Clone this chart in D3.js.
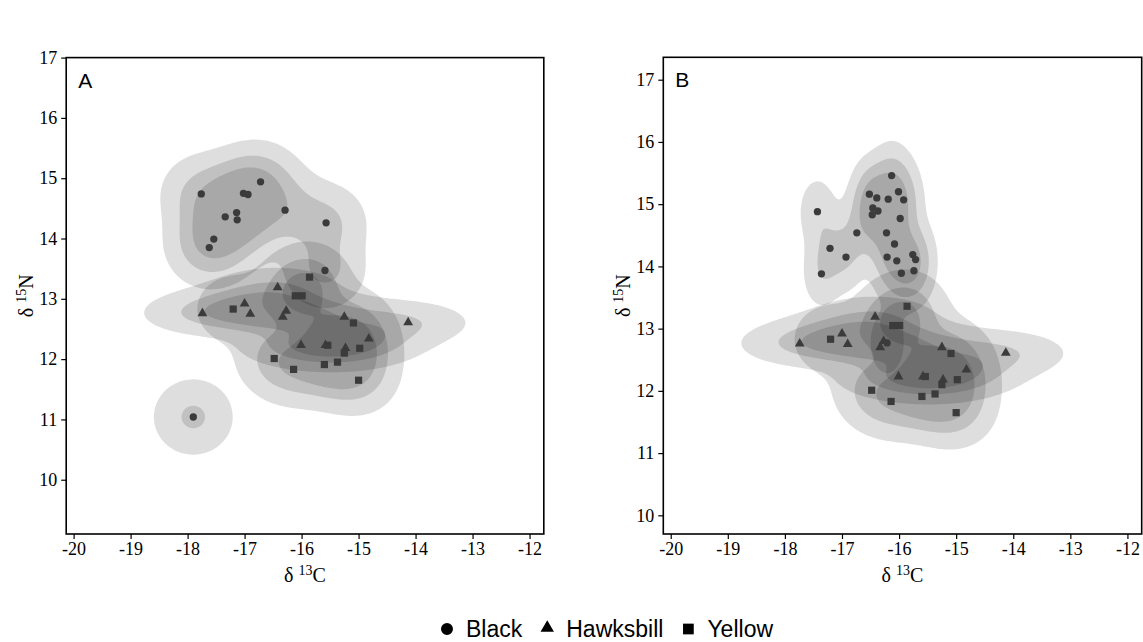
<!DOCTYPE html>
<html>
<head>
<meta charset="utf-8">
<script src="https://cdn.jsdelivr.net/npm/d3@7"></script>
<style>
  body { margin: 0; background: #fff; }
  svg { display: block; }
</style>
</head>
<body>
<svg id="chart" width="1143" height="642"></svg>
<script>
// ---- isotope values (δ13C, δ15N) ----
const blackC_A = [-17.76, -17.02, -16.94, -16.72, -16.29, -15.57, -17.14, -17.34, -17.13, -17.54, -17.62, -15.59, -17.90];
const blackN_A = [14.74, 14.75, 14.73, 14.94, 14.47, 14.26, 14.43, 14.36, 14.31, 13.99, 13.85, 13.47, 11.04];

const blackC_B = [-16.13, -16.52, -16.39, -16.19, -16.01, -15.92, -16.46, -16.37, -16.47, -15.98, -17.43, -16.74,
                  -16.22, -16.08, -17.21, -16.93, -16.21, -15.76, -15.71, -16.04, -17.36, -15.96, -15.74, -16.21];
const blackN_B = [15.46, 15.16, 15.10, 15.08, 15.20, 15.07, 14.94, 14.89, 14.83, 14.77, 14.88, 14.54,
                  14.54, 14.36, 14.29, 14.15, 14.15, 14.19, 14.11, 14.09, 13.88, 13.89, 13.93, 12.77];

const hawksbillC = [-17.74, -17.00, -16.90, -16.42, -16.27, -16.33, -15.25, -14.82, -16.01, -15.58, -15.23, -14.13];
const hawksbillN = [12.76, 12.92, 12.75, 13.19, 12.80, 12.70, 12.70, 12.34, 12.23, 12.23, 12.18, 12.61];

const yellowC = [-15.86, -16.11, -15.99, -17.20, -15.09, -15.54, -15.25, -14.98, -16.48, -16.14, -15.60, -15.37, -15.00];
const yellowN = [13.36, 13.05, 13.05, 12.83, 12.60, 12.23, 12.10, 12.18, 12.01, 11.83, 11.91, 11.95, 11.65];

const species = ["Black", "Hawksbill", "Yellow"];
const xTicks = [-20, -19, -18, -17, -16, -15, -14, -13, -12];
const yTicks = [10, 11, 12, 13, 14, 15, 16, 17];
const hdrProbs = [0.95, 0.75, 0.5];   // highest-density regions drawn per species
const panelTags = ["A", "B"];

const svg = d3.select("#chart");
const serif = "'Liberation Serif', 'Times New Roman', serif";
const sans = "'Liberation Sans', Arial, sans-serif";
const pointColor = "#3b3b3b";

const symbolOf = {
  Black: d3.symbolCircle,
  Hawksbill: d3.symbolTriangle,
  Yellow: d3.symbolSquare
};
const symbolSize = { Black: 42, Hawksbill: 42, Yellow: 52 };
const legendSize = { Black: 113, Hawksbill: 78, Yellow: 115 };

const panels = [
  {
    tag: panelTags[0],
    left: 66.2, right: 543.8, top: 57.6, bottom: 534,
    xDomain: [-20.13, -11.75], yDomain: [9.10, 17.0],
    groups: [
      { name: "Black", x: blackC_A, y: blackN_A },
      { name: "Hawksbill", x: hawksbillC, y: hawksbillN },
      { name: "Yellow", x: yellowC, y: yellowN }
    ]
  },
  {
    tag: panelTags[1],
    left: 663.3, right: 1141.7, top: 57.3, bottom: 534,
    xDomain: [-20.13, -11.75], yDomain: [9.70, 17.36],
    groups: [
      { name: "Black", x: blackC_B, y: blackN_B },
      { name: "Hawksbill", x: hawksbillC, y: hawksbillN },
      { name: "Yellow", x: yellowC, y: yellowN }
    ]
  }
];

// normal-reference bandwidth (as in MASS::bandwidth.nrd)
function bandwidthNrd(v) {
  const s = v.slice().sort((a, b) => a - b);
  const iqr = (d3.quantileSorted(s, 0.75) - d3.quantileSorted(s, 0.25)) / 1.34;
  const sd = d3.deviation(v);
  return 4 * 1.06 * Math.min(sd, iqr) * Math.pow(v.length, -0.2);
}

const GRID = 240;

function densityGrid(xs, ys, xDom, yDom) {
  const hx = bandwidthNrd(xs) / 4, hy = bandwidthNrd(ys) / 4;
  const dx = (xDom[1] - xDom[0]) / GRID, dy = (yDom[1] - yDom[0]) / GRID;
  const values = new Float64Array(GRID * GRID);
  const n = xs.length;
  for (let j = 0; j < GRID; j++) {
    const yv = yDom[1] - (j + 0.5) * dy;
    for (let i = 0; i < GRID; i++) {
      const xv = xDom[0] + (i + 0.5) * dx;
      let s = 0;
      for (let k = 0; k < n; k++) {
        const u = (xv - xs[k]) / hx, w = (yv - ys[k]) / hy;
        s += Math.exp(-0.5 * (u * u + w * w));
      }
      values[i + j * GRID] = s / (n * 2 * Math.PI * hx * hy);
    }
  }
  return { values, dx, dy };
}

function hdrThresholds(values, probs) {
  const sorted = Array.from(values).sort((a, b) => b - a);
  const total = d3.sum(sorted);
  const cum = [];
  let acc = 0;
  for (const v of sorted) { acc += v; cum.push(acc / total); }
  return probs.map(p => {
    const idx = d3.bisectLeft(cum, p);
    return sorted[Math.min(idx, sorted.length - 1)];
  });
}

panels.forEach((p, pi) => {
  const x = d3.scaleLinear().domain(p.xDomain).range([p.left, p.right]);
  const y = d3.scaleLinear().domain(p.yDomain).range([p.bottom, p.top]);
  const g = svg.append("g");

  const clipId = "clip" + pi;
  svg.append("clipPath").attr("id", clipId)
    .append("rect").attr("x", p.left).attr("y", p.top)
    .attr("width", p.right - p.left).attr("height", p.bottom - p.top);

  const densLayer = g.append("g").attr("clip-path", `url(#${clipId})`);

  // density regions
  p.groups.forEach(gr => {
    const { values, dx, dy } = densityGrid(gr.x, gr.y, p.xDomain, p.yDomain);
    const th = hdrThresholds(values, hdrProbs);
    const proj = d3.geoTransform({
      point: function (cx, cy) {
        this.stream.point(x(p.xDomain[0] + cx * dx), y(p.yDomain[1] - cy * dy));
      }
    });
    const path = d3.geoPath(proj);
    const contours = d3.contours().size([GRID, GRID]);
    densLayer.selectAll(null)
      .data(th.map(t => contours.contour(values, t)))
      .join("path")
      .attr("d", path)
      .attr("fill", "#000")
      .attr("fill-opacity", 0.13);
  });

  // points
  p.groups.forEach(gr => {
    const sym = d3.symbol().type(symbolOf[gr.name]).size(symbolSize[gr.name]);
    g.append("g").selectAll("path")
      .data(gr.x.map((v, i) => [v, gr.y[i]]))
      .join("path")
      .attr("transform", d => `translate(${x(d[0])},${y(d[1])})`)
      .attr("d", sym)
      .attr("fill", pointColor);
  });

  // axes
  const xAxis = g.append("g")
    .attr("transform", `translate(0,${p.bottom})`)
    .call(d3.axisBottom(x).tickValues(xTicks).tickSize(5).tickPadding(3).tickFormat(d => String(d)));
  const yAxis = g.append("g")
    .attr("transform", `translate(${p.left},0)`)
    .call(d3.axisLeft(y).tickValues(yTicks).tickSize(5).tickPadding(4).tickFormat(d => String(d)));
  [xAxis, yAxis].forEach(a => {
    a.select(".domain").remove();
    a.selectAll(".tick line").attr("stroke", "#000").attr("stroke-width", 1.2);
    a.selectAll(".tick text").attr("fill", "#000")
      .style("font-family", serif).style("font-size", "18px");
  });

  // panel frame
  g.append("rect")
    .attr("x", p.left).attr("y", p.top)
    .attr("width", p.right - p.left).attr("height", p.bottom - p.top)
    .attr("fill", "none").attr("stroke", "#000").attr("stroke-width", 1.6);

  // panel tag
  g.append("text")
    .attr("x", p.left + 12).attr("y", p.top + 30)
    .style("font-family", sans).style("font-size", "21px")
    .attr("fill", "#000")
    .text(p.tag);

  // axis titles
  const cx = (p.left + p.right) / 2;
  const xt = g.append("text")
    .attr("x", cx).attr("y", 582)
    .attr("text-anchor", "middle")
    .style("font-family", serif).style("font-size", "20px").attr("fill", "#000");
  xt.append("tspan").text("δ ");
  xt.append("tspan").attr("dy", -7).style("font-size", "14px").text("13");
  xt.append("tspan").attr("dy", 7).text("C");

  const cy = (p.top + p.bottom) / 2;
  const yt = g.append("text")
    .attr("transform", `translate(${p.left - 33},${cy}) rotate(-90)`)
    .attr("text-anchor", "middle")
    .style("font-family", serif).style("font-size", "20px").attr("fill", "#000");
  yt.append("tspan").text("δ ");
  yt.append("tspan").attr("dy", -7).style("font-size", "14px").text("15");
  yt.append("tspan").attr("dy", 7).text("N");
});

// legend
const legend = svg.append("g").attr("transform", "translate(447,629)");
let lx = 0;
species.forEach(name => {
  const item = legend.append("g").attr("transform", `translate(${lx},0)`);
  item.append("path")
    .attr("transform", name === "Hawksbill" ? "translate(0,-1)" : null)
    .attr("d", d3.symbol().type(symbolOf[name]).size(legendSize[name]))
    .attr("fill", "#000");
  const t = item.append("text")
    .attr("x", 19).attr("y", 8)
    .style("font-family", sans).style("font-size", "23px")
    .attr("fill", "#000")
    .text(name);
  lx += 19 + t.node().getComputedTextLength() + 25;
});
</script>
</body>
</html>
